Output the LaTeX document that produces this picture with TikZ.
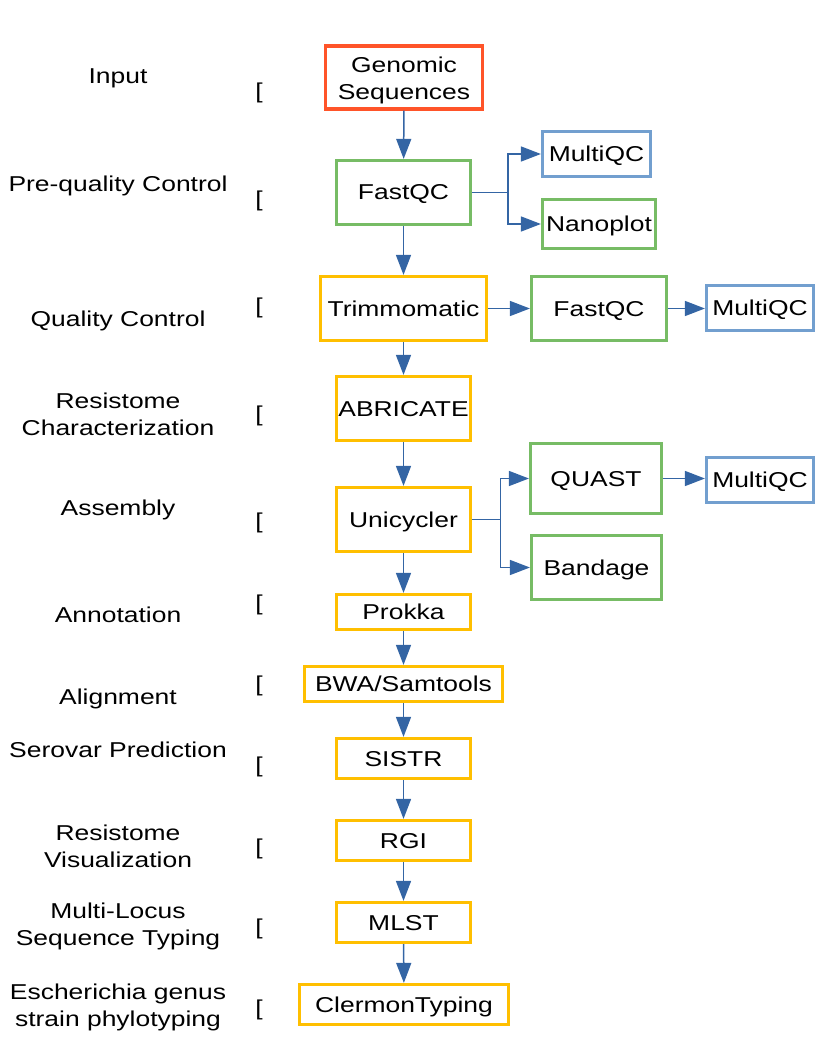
\documentclass[tikz,border=0pt]{standalone}
\usepackage{fontspec}
\setmainfont[FakeStretch=1.23]{Liberation Sans}
\usetikzlibrary{arrows.meta}
\definecolor{cred}{HTML}{FF5429}
\definecolor{cgreen}{HTML}{77BC65}
\definecolor{cblue}{HTML}{729FCF}
\definecolor{cgold}{HTML}{FFBF00}
\definecolor{carrow}{HTML}{3465A4}
\begin{document}
\begin{tikzpicture}[x=1pt,y=-1pt,
  base/.style={font=\fontsize{21.5}{27}\selectfont, inner sep=0pt, align=center, text=black},
  txt/.style={base, text height=15.5pt, text depth=4.5pt},
  box/.style={base, text height=19.5pt, text depth=4.5pt, draw, line width=3.2pt},
  box2/.style={base, draw, line width=3.2pt},
  redbox/.style={box2, draw=cred},
  greenbox/.style={box, draw=cgreen},
  bluebox/.style={box, draw=cblue},
  goldbox/.style={box, draw=cgold},
  lab/.style={txt},
  lab2/.style={base},
  brk/.style={txt},
  arr/.style={draw=carrow, line width=1.5pt, -{Triangle[length=20pt,width=15pt]}, color=carrow},
  seg/.style={draw=carrow, line width=1.5pt}
]
\useasboundingbox (0,0) rectangle (816,1056);

% main column
\node[redbox, minimum width=157pt, minimum height=63pt] (gen) at (404,77.5) {\raisebox{-3pt}[\height][\depth]{\begin{tabular}{@{}c@{}}Genomic\\Sequences\end{tabular}}};
\node[greenbox, minimum width=134pt, minimum height=64pt] (fq1) at (403.5,192.5) {FastQC};
\node[bluebox, minimum width=108pt, minimum height=45pt] (mq1) at (596.5,154) {MultiQC};
\node[greenbox, minimum width=113pt, minimum height=49pt] (nano) at (599,224) {Nanoplot};
\node[goldbox, minimum width=166pt, minimum height=64pt] (trim) at (403.5,308.5) {Trimmomatic};
\node[greenbox, minimum width=135pt, minimum height=64pt] (fq2) at (599,308.5) {FastQC};
\node[bluebox, minimum width=107pt, minimum height=45pt] (mq2) at (760,308) {MultiQC};
\node[goldbox, minimum width=134pt, minimum height=64pt] (abr) at (403.5,408.5) {ABRICATE};
\node[goldbox, minimum width=134pt, minimum height=64pt] (uni) at (403.5,519.5) {Unicycler};
\node[greenbox, minimum width=131pt, minimum height=70pt] (quast) at (596,478.5) {QUAST};
\node[bluebox, minimum width=107pt, minimum height=45pt] (mq3) at (760,480) {MultiQC};
\node[greenbox, minimum width=130pt, minimum height=64pt] (band) at (596.5,567.5) {Bandage};
\node[goldbox, minimum width=134pt, minimum height=35pt] (prokka) at (403.5,612) {Prokka};
\node[goldbox, minimum width=198pt, minimum height=35pt] (bwa) at (403.5,684) {BWA/Samtools};
\node[goldbox, minimum width=134pt, minimum height=40pt] (sistr) at (403.5,758.5) {SISTR};
\node[goldbox, minimum width=134pt, minimum height=40pt] (rgi) at (403.5,840.5) {RGI};
\node[goldbox, minimum width=134pt, minimum height=40pt] (mlst) at (403.5,922.5) {MLST};
\node[goldbox, minimum width=209pt, minimum height=40pt] (clerm) at (404,1004.5) {ClermonTyping};

% left labels
\node[lab] (l1) at (118,78.5) {Input};
\node[lab] (l2) at (118,186) {Pre-quality Control};
\node[lab] (l3) at (118,321) {Quality Control};
\node[lab2] (l4) at (118,414) {Resistome\\Characterization};
\node[lab] (l5) at (118,510) {Assembly};
\node[lab] (l6) at (118,617) {Annotation};
\node[lab] (l7) at (118,699) {Alignment};
\node[lab] (l8) at (118,752) {Serovar Prediction};
\node[lab2] (l9) at (118,846) {Resistome\\Visualization};
\node[lab2] (l10) at (118,926) {Multi-Locus\\Sequence Typing};
\node[lab2] (l11) at (118,1007) {Escherichia genus\\strain phylotyping};

% brackets
\node[brk] (b1) at (259,93) {[};
\node[brk] (b2) at (259,201) {[};
\node[brk] (b3) at (259,308) {[};
\node[brk] (b4) at (259,416) {[};
\node[brk] (b5) at (259,523) {[};
\node[brk] (b6) at (259,605) {[};
\node[brk] (b7) at (259,686) {[};
\node[brk] (b8) at (259,767) {[};
\node[brk] (b9) at (259,849) {[};
\node[brk] (b10) at (259,929) {[};
\node[brk] (b11) at (259,1010) {[};

% connectors
\coordinate (j1) at (508,192.5);
\coordinate (j2) at (500.5,519.5);
\draw[arr] (gen) -- (fq1);
\draw[seg] (fq1.east) -- (j1);
\draw[arr] (j1) |- (mq1.west);
\draw[arr] (j1) |- (nano.west);
\draw[arr] (fq1) -- (trim);
\draw[arr] (trim.east) -- (fq2.west);
\draw[arr] (fq2.east) -- (fq2.east -| mq2.west);
\draw[arr] (trim) -- (abr);
\draw[arr] (abr) -- (uni);
\draw[seg] (uni.east) -- (j2);
\draw[arr] (j2) |- (quast.west);
\draw[arr] (j2) |- (band.west);
\draw[arr] (quast.east) -- (quast.east -| mq3.west);
\draw[arr] (uni) -- (prokka);
\draw[arr] (prokka) -- (bwa);
\draw[arr] (bwa) -- (sistr);
\draw[arr] (sistr) -- (rgi);
\draw[arr] (rgi) -- (mlst);
\draw[arr] (mlst) -- (clerm);
\end{tikzpicture}
\end{document}
